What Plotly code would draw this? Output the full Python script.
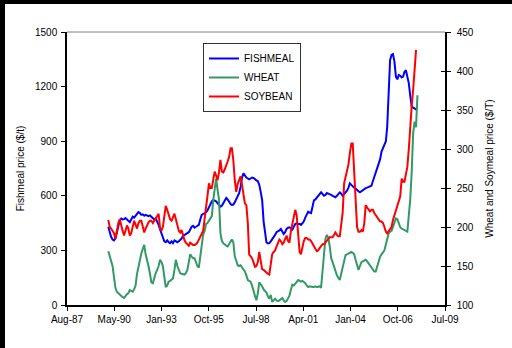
import datetime as dt
import pandas as pd
import plotly.graph_objects as go

# ---------------- data (monthly, starting Jan 1990) ----------------
start_month = "1990-01-01"

fishmeal = [
    430, 395, 375, 360, 355, 365, 400, 440, 465, 475, 470, 472,      # 1990
    478, 470, 460, 455, 470, 485, 480, 490, 505, 510, 505, 495,      # 1991
    498, 490, 495, 492, 488, 492, 485, 480, 470, 475, 460, 440,      # 1992
    415, 390, 365, 350, 345, 355, 345, 340, 350, 340, 355, 350,      # 1993
    345, 350, 355, 365, 380, 385, 390, 395, 400, 415, 430, 435,      # 1994
    425, 430, 435, 440, 470, 495, 500, 505, 510, 520, 540, 560,      # 1995
    570, 577, 575, 570, 560, 550, 540, 545, 560, 575, 588, 580,      # 1996
    565, 555, 550, 552, 565, 585, 600, 614, 650, 700, 724, 710,      # 1997
    700, 695, 690, 695, 700, 698, 690, 685, 680, 660, 620, 577,      # 1998
    460, 380, 345, 338, 340, 350, 360, 372, 385, 400, 403, 410,      # 1999
    418, 405, 390, 400, 418, 425, 427, 420, 415, 430, 445, 450,      # 2000
    445, 445, 440, 449, 460, 480, 500, 513, 508, 505, 540, 575,      # 2001
    580, 590, 600, 610, 619, 610, 600, 605, 615, 612, 610, 605,      # 2002
    600, 595, 592, 600, 610, 619, 612, 600, 610, 620, 628, 645,      # 2003
    668, 660, 650, 645, 640, 630, 625, 619, 625, 632, 640, 642,      # 2004
    645, 648, 650, 655, 680, 705, 730, 760, 788, 800, 843, 860,      # 2005
    879, 900, 980, 1218, 1346, 1374, 1379, 1337, 1255, 1240, 1264, 1260,  # 2006
    1250, 1255, 1280, 1290, 1260, 1218, 1150, 1090, 1085, 1080, 1075, 1078,  # 2007
]

wheat = [
    169, 163, 159, 150, 136, 122, 117, 115, 113, 112, 110, 109,      # 1990
    112, 114, 115, 119, 118, 117, 120, 125, 140, 149, 159, 166,      # 1991
    172, 177, 165, 159, 150, 140, 129, 128, 135, 141, 145, 150,      # 1992
    158, 155, 150, 135, 123, 125, 130, 131, 132, 134, 145, 158,      # 1993
    150, 145, 141, 140, 139, 139, 141, 145, 155, 165, 162, 160,      # 1994
    160, 155, 150, 148, 160, 175, 190, 195, 204, 205, 208, 212,      # 1995
    214, 235, 251, 262, 248, 235, 192, 182, 179, 177, 176, 175,      # 1996
    178, 182, 184, 180, 162, 157, 151, 150, 151, 148, 145, 143,      # 1997
    138, 132, 131, 130, 125, 117, 112, 106, 115, 129, 127, 124,      # 1998
    120, 118, 116, 111, 108, 113, 104, 106, 108, 106, 105, 106,      # 1999
    108, 109, 106, 104, 105, 108, 112, 120, 126, 125, 127, 129,      # 2000
    132, 131, 130, 131, 130, 128, 125, 123, 124, 123, 123, 123,      # 2001
    124, 123, 124, 124, 122, 145, 172, 185, 190, 186, 175, 160,      # 2002
    155, 148, 143, 138, 135, 132, 140, 148, 155, 164, 165, 166,      # 2003
    166, 168, 167, 165, 158, 150, 145, 150, 155, 156, 157, 158,      # 2004
    156, 153, 152, 148, 145, 143, 143, 150, 158, 162, 165, 168,      # 2005
    170, 178, 185, 192, 194, 195, 200, 207, 211, 210, 205, 200,      # 2006
    198, 197, 196, 195, 194, 215, 235, 270, 320, 335, 328, 369,      # 2007
]

soybean = [
    209, 200, 198, 195, 192, 185, 195, 205, 210, 200, 195, 189,      # 1990
    195, 202, 198, 189, 192, 200, 208, 203, 198, 205, 208, 208,      # 1991
    200, 193, 198, 203, 206, 208, 208, 205, 208, 210, 214, 217,      # 1992
    198, 196, 200, 215, 227, 222, 215, 210, 208, 213, 217, 210,      # 1993
    200, 195, 193, 196, 190, 183, 180, 178, 176, 180, 178, 177,      # 1994
    177, 178, 180, 184, 186, 190, 195, 210, 230, 240, 256, 250,      # 1995
    250, 262, 271, 266, 260, 270, 286, 271, 270, 274, 278, 284,      # 1996
    290, 301, 301, 285, 260, 245, 255, 260, 265, 254, 240, 230,      # 1997
    228, 205, 165, 162, 160, 155, 149, 150, 155, 168, 158, 146,      # 1998
    145, 143, 141, 140, 139, 150, 165, 168, 170, 175, 180, 184,      # 1999
    182, 178, 180, 186, 189, 182, 180, 195, 203, 212, 222, 215,      # 2000
    190, 168, 165, 175, 182, 186, 186, 184, 184, 182, 178, 175,      # 2001
    172, 169, 170, 173, 175, 178, 178, 180, 183, 185, 187, 187,      # 2002
    187, 190, 193, 190, 188, 188, 200, 218, 256, 265, 272, 280,      # 2003
    295, 307, 307, 270, 225, 200, 194, 194, 196, 194, 205, 228,      # 2004
    225, 222, 220, 222, 222, 218, 215, 212, 210, 207, 207, 205,      # 2005
    200, 194, 192, 195, 198, 200, 209, 215, 222, 228, 235, 239,      # 2006
    262, 258, 258, 270, 277, 300, 333, 355, 376, 397, 427,           # 2007
]

# Excel-style date axis: serials 32000..40000, step 1000
tick_serials = [32000, 33000, 34000, 35000, 36000, 37000, 38000, 39000, 40000]
left_ticks = [0, 300, 600, 900, 1200, 1500]
right_ticks = [100, 150, 200, 250, 300, 350, 400, 450]


def serial_to_date(s):
    return dt.datetime(1899, 12, 30) + dt.timedelta(days=s)


tick_dates = [serial_to_date(s) for s in tick_serials]
tick_text = [d.strftime("%b-%y") for d in tick_dates]


def months(n):
    return pd.date_range(start_month, periods=n, freq="MS")


FONT = "Liberation Sans, Arial, sans-serif"
fig = go.Figure()

fig.add_trace(go.Scatter(x=months(len(fishmeal)), y=fishmeal, name="FISHMEAL",
                         mode="lines", line=dict(color="#0000FF", width=2), yaxis="y"))
fig.add_trace(go.Scatter(x=months(len(wheat)), y=wheat, name="WHEAT",
                         mode="lines", line=dict(color="#339966", width=2), yaxis="y2"))
fig.add_trace(go.Scatter(x=months(len(soybean)), y=soybean, name="SOYBEAN",
                         mode="lines", line=dict(color="#FF0000", width=2), yaxis="y2"))

W, H = 512, 348
L, R, T, B = 67, 67, 32, 43
pw, ph = W - L - R, H - T - B

fig.update_layout(
    width=W, height=H,
    margin=dict(l=L, r=R, t=T, b=B, pad=0),
    paper_bgcolor="white", plot_bgcolor="white",
    font=dict(family=FONT, size=10, color="black"),
    showlegend=True,
    legend=dict(
        x=(203 - L) / pw, y=1 - (43 - T) / ph, xanchor="left", yanchor="top",
        bgcolor="white", bordercolor="#333333", borderwidth=1,
        font=dict(family=FONT, size=10, color="black"),
        itemwidth=30, tracegroupgap=0,
    ),
    xaxis=dict(
        type="date",
        range=[tick_dates[0], tick_dates[-1]],
        tickvals=tick_dates, ticktext=tick_text,
        ticks="outside", ticklen=4, tickwidth=1, tickcolor="black",
        showline=True, linecolor="black", linewidth=1.5,
        showgrid=False, zeroline=False,
        tickfont=dict(size=10),
    ),
    yaxis=dict(
        range=[0, 1500], tickvals=left_ticks,
        ticks="outside", ticklen=4, tickwidth=1, tickcolor="black",
        showline=True, linecolor="black", linewidth=1.5,
        showgrid=False, zeroline=False,
        ticklabelstandoff=2,
        title=dict(text="Fishmeal price ($/t)", font=dict(size=10), standoff=9),
        tickfont=dict(size=10),
    ),
    yaxis2=dict(
        range=[100, 450], tickvals=right_ticks,
        overlaying="y", side="right", anchor="x",
        ticks="outside", ticklen=4, tickwidth=1, tickcolor="black",
        showline=True, linecolor="black", linewidth=1.5,
        showgrid=False, zeroline=False,
        ticklabelstandoff=4,
        title=dict(text="Wheat and Soymeal price ($/T)", font=dict(size=10), standoff=13),
        tickfont=dict(size=10),
    ),
    yaxis3=dict(
        range=[100, 450], tickvals=right_ticks,
        overlaying="y", side="right", anchor="x",
        ticks="inside", ticklen=4, tickwidth=1, tickcolor="black",
        showticklabels=False, showline=False, showgrid=False, zeroline=False,
    ),
    shapes=[
        # top border of plot area
        dict(type="line", xref="paper", yref="paper", x0=0, x1=1, y0=1, y1=1,
             line=dict(color="#808080", width=1)),
        # black frame strips of the screenshot (top and left)
        dict(type="rect", xref="paper", yref="paper",
             x0=-L / pw, x1=(W - L) / pw, y0=(H - B - 4) / ph, y1=(H - B) / ph,
             fillcolor="black", line=dict(width=0), layer="above"),
        dict(type="rect", xref="paper", yref="paper",
             x0=-L / pw, x1=(5 - L) / pw, y0=-B / ph, y1=(H - B) / ph,
             fillcolor="black", line=dict(width=0), layer="above"),
    ],
)

# invisible trace to activate the inside-tick axis
fig.add_trace(go.Scatter(x=[tick_dates[0]], y=[None], yaxis="y3", showlegend=False,
                         hoverinfo="skip", mode="lines"))

fig.write_html("out.html")
